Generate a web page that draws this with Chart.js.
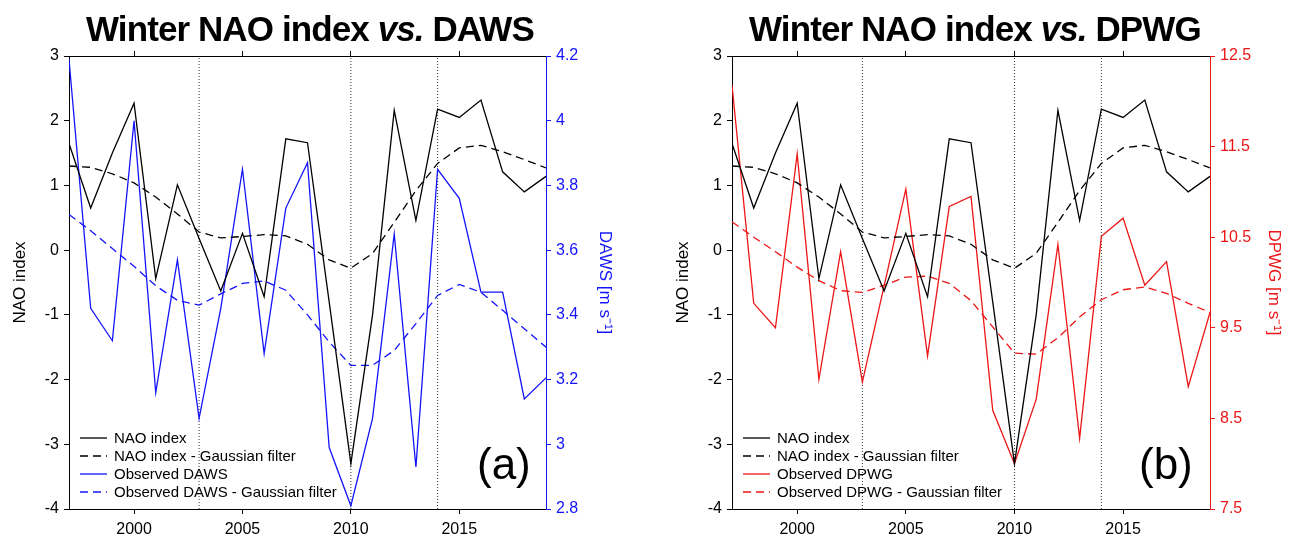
<!DOCTYPE html>
<html>
<head>
<meta charset="utf-8">
<script src="https://cdn.jsdelivr.net/npm/chart.js@4.4.1/dist/chart.umd.min.js"></script>
<style>
  body { margin: 0; background: #fff; font-family: "Liberation Sans", Arial, sans-serif; }
  #wrap { position: relative; width: 1292px; height: 539px; }
  canvas { position: absolute; top: 0; }
  .title { position: absolute; top: 11px; font-weight: bold; font-size: 35px; line-height: 1; letter-spacing: -0.9px; white-space: nowrap; }
  .tag { position: absolute; top: 442px; font-size: 44px; line-height: 1; }
  .legend { position: absolute; top: 429px; font-size: 15px; line-height: 18px; white-space: nowrap; }
  .legend div { display: flex; align-items: center; height: 18px; }
  .legend svg { margin-right: 7px; }
</style>
</head>
<body>
<div id="wrap">
  <canvas id="chartA" width="646" height="539" style="left:0"></canvas>
  <canvas id="chartB" width="646" height="539" style="left:646px"></canvas>
  <div class="title" style="left:86px">Winter NAO index <i>vs.</i> DAWS</div>
  <div class="title" style="left:749px">Winter NAO index <i>vs.</i> DPWG</div>
  <div class="tag" style="left:477px">(a)</div>
  <div class="tag" style="left:1139px">(b)</div>
  <div class="legend" id="legendA" style="left:80px"></div>
  <div class="legend" id="legendB" style="left:743px"></div>
</div>
<script>
// winters 1997-2019
const years = [1997, 1998, 1999, 2000, 2001, 2002, 2003, 2004, 2005, 2006, 2007, 2008,
  2009, 2010, 2011, 2012, 2013, 2014, 2015, 2016, 2017, 2018, 2019];

const nao = [1.65, 0.65, 1.5, 2.27, -0.44, 1.01, 0.18, -0.63, 0.26, -0.72, 1.72, 1.66,
  -0.8, -3.3, -1.0, 2.16, 0.46, 2.18, 2.05, 2.32, 1.21, 0.9, 1.14];
const naoGauss = [1.3, 1.28, 1.18, 1.04, 0.82, 0.56, 0.28, 0.19, 0.21, 0.24, 0.22, 0.09,
  -0.15, -0.28, -0.05, 0.43, 0.92, 1.34, 1.58, 1.62, 1.52, 1.4, 1.27];

const daws = [4.19, 3.42, 3.32, 4.0, 3.16, 3.57, 3.08, 3.42, 3.85, 3.28, 3.73, 3.87,
  2.99, 2.81, 3.08, 3.65, 2.93, 3.85, 3.76, 3.47, 3.47, 3.14, 3.205];
const dawsGauss = [3.71, 3.66, 3.605, 3.55, 3.49, 3.445, 3.43, 3.465, 3.497, 3.505, 3.476, 3.4,
  3.316, 3.244, 3.244, 3.29, 3.373, 3.46, 3.494, 3.47, 3.414, 3.357, 3.3];

const dpwg = [12.18, 9.77, 9.5, 11.42, 8.93, 10.34, 8.9, 9.96, 11.03, 9.19, 10.84, 10.95,
  8.59, 8.0, 8.71, 10.42, 8.28, 10.51, 10.71, 9.97, 10.23, 8.85, 9.67];
const dpwgGauss = [10.67, 10.5, 10.34, 10.17, 10.02, 9.91, 9.89, 9.97, 10.06, 10.07, 9.99, 9.8,
  9.51, 9.22, 9.21, 9.39, 9.62, 9.81, 9.92, 9.95, 9.88, 9.77, 9.67];

const markYears = [2003, 2010, 2014];

const xTicks = [2000, 2005, 2010, 2015];
const naoTicks = [-4, -3, -2, -1, 0, 1, 2, 3];
const dawsTicks = [2.8, 3, 3.2, 3.4, 3.6, 3.8, 4, 4.2];
const dpwgTicks = [7.5, 8.5, 9.5, 10.5, 11.5, 12.5];

const BLUE = 'rgb(20,20,250)';
const RED = 'rgb(236,22,22)';
const DASH = [8, 5];

const toXY = arr => arr.map((v, i) => ({ x: years[i], y: v }));

function makePanel(id, p) {
  const markSets = markYears.map(yr => ({
    data: [{ x: yr, y: -4 }, { x: yr, y: 3 }],
    yAxisID: 'y',
    borderColor: '#333',
    borderWidth: 1,
    borderDash: [1, 2]
  }));

  return new Chart(document.getElementById(id), {
    type: 'line',
    data: {
      datasets: [
        { label: 'NAO index', data: toXY(nao), yAxisID: 'y', borderColor: '#000', borderWidth: 1.3 },
        { label: 'NAO index - Gaussian filter', data: toXY(naoGauss), yAxisID: 'y', borderColor: '#000', borderWidth: 1.3, borderDash: DASH },
        { label: 'Observed ' + p.name, data: toXY(p.values), yAxisID: 'y2', borderColor: p.color, borderWidth: 1.3 },
        { label: 'Observed ' + p.name + ' - Gaussian filter', data: toXY(p.gauss), yAxisID: 'y2', borderColor: p.color, borderWidth: 1.3, borderDash: DASH },
        ...markSets
      ]
    },
    options: {
      responsive: false,
      animation: false,
      elements: { point: { radius: 0 }, line: { tension: 0 } },
      layout: { padding: 0 },
      plugins: { legend: { display: false }, tooltip: { enabled: false } },
      scales: {
        x: {
          type: 'linear', position: 'bottom', min: 1997, max: 2019,
          afterBuildTicks: s => { s.ticks = xTicks.map(v => ({ value: v })); },
          afterFit: s => { s.height = 30; },
          ticks: { color: '#000', font: { size: 16 }, padding: 6, callback: v => String(v), maxRotation: 0 },
          grid: { drawOnChartArea: false, tickLength: 5, color: '#000' },
          border: { color: '#000', width: 1 }
        },
        xTop: {
          type: 'linear', position: 'top', min: 1997, max: 2019,
          afterBuildTicks: s => { s.ticks = xTicks.map(v => ({ value: v })); },
          afterFit: s => { s.height = 56; },
          ticks: { display: false },
          grid: { drawOnChartArea: false, tickLength: 5, color: '#000' },
          border: { color: '#000', width: 1 }
        },
        y: {
          position: 'left', min: -4, max: 3,
          afterBuildTicks: s => { s.ticks = naoTicks.map(v => ({ value: v })); },
          afterFit: s => { s.width = p.leftWidth; },
          ticks: { color: '#000', font: { size: 16 }, padding: 5, callback: v => String(v) },
          grid: { drawOnChartArea: false, tickLength: 5, color: '#000' },
          border: { color: '#000', width: 1 },
          title: { display: true, text: 'NAO index', color: '#000', font: { size: 17 }, padding: { top: p.leftTitlePad, bottom: 0 } }
        },
        y2: {
          position: 'right', min: p.min, max: p.max,
          afterBuildTicks: s => { s.ticks = p.ticks.map(v => ({ value: v })); },
          afterFit: s => { s.width = p.rightWidth; },
          ticks: { color: p.color, font: { size: 16 }, padding: 5, callback: v => String(v) },
          grid: { drawOnChartArea: false, tickLength: 5, color: p.color },
          border: { color: p.color, width: 1 },
          title: { display: true, text: p.name + ' [m s\u207B\u00B9]', color: p.color, font: { size: 17 }, padding: { top: p.rightTitlePad, bottom: 0 } }
        }
      }
    }
  });
}

function makeLegend(id, chart) {
  const box = document.getElementById(id);
  chart.data.datasets.slice(0, 4).forEach(ds => {
    const dash = ds.borderDash ? 'stroke-dasharray="8 5"' : '';
    const row = document.createElement('div');
    row.innerHTML = '<svg width="27" height="4"><line x1="0" y1="2" x2="27" y2="2" stroke="' +
      ds.borderColor + '" stroke-width="1.3" ' + dash + '/></svg><span>' + ds.label + '</span>';
    box.appendChild(row);
  });
}

const chartA = makePanel('chartA', {
  name: 'DAWS', values: daws, gauss: dawsGauss, color: BLUE,
  min: 2.8, max: 4.2, ticks: dawsTicks,
  leftWidth: 69, rightWidth: 100, leftTitlePad: 10, rightTitlePad: 31
});
const chartB = makePanel('chartB', {
  name: 'DPWG', values: dpwg, gauss: dpwgGauss, color: RED,
  min: 7.5, max: 12.5, ticks: dpwgTicks,
  leftWidth: 86, rightWidth: 82, leftTitlePad: 27, rightTitlePad: 8
});

makeLegend('legendA', chartA);
makeLegend('legendB', chartB);
</script>
</body>
</html>
